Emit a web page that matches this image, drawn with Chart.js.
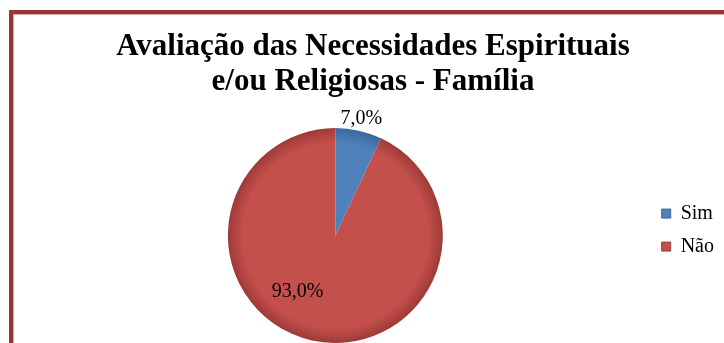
<!DOCTYPE html>
<html>
<head>
<meta charset="utf-8">
<script src="https://cdn.jsdelivr.net/npm/chart.js@4.4.1/dist/chart.umd.min.js"></script>
<style>
  html, body { margin: 0; padding: 0; background: #ffffff; }
  #wrap { width: 724px; height: 343px; position: relative; }
</style>
</head>
<body>
<div id="wrap"><canvas id="chart" width="724" height="343"></canvas></div>
<script>
// --- data ---
const categories = ['Sim', 'Não'];
const values = [7.0, 93.0];
const valueLabels = ['7,0%', '93,0%'];
const titleLines = ['Avaliação das Necessidades Espirituais', 'e/ou Religiosas - Família'];

// slice colours: [flat, rim]
const sliceColors = [['#4f81bd', '#3a679e'], ['#c4504c', '#9e3a37']];
// where the value labels sit (fraction of radius, angle shift in rad)
const labelRadius = [1.11, 0.63];
const labelShift = [0, 0.37];

const SERIF = "'Liberation Serif', 'Times New Roman', serif";

// dark red frame (top + left only, like the source)
const framePlugin = {
  id: 'frame',
  beforeDraw(chart) {
    const ctx = chart.ctx;
    ctx.save();
    ctx.fillStyle = '#953735';
    ctx.fillRect(9, 10, chart.width - 9, 4);
    ctx.fillRect(9, 10, 4, chart.height - 10);
    ctx.fillStyle = '#d6a9a8';
    ctx.fillRect(13, 14, chart.width - 13, 1);
    ctx.fillRect(13, 14, 1, chart.height - 14);
    ctx.restore();
  }
};

// percent labels
const valueLabelPlugin = {
  id: 'valueLabels',
  afterDatasetsDraw(chart) {
    const ctx = chart.ctx;
    const meta = chart.getDatasetMeta(0);
    ctx.save();
    ctx.font = '20px ' + SERIF;
    ctx.fillStyle = '#000000';
    ctx.textAlign = 'center';
    ctx.textBaseline = 'middle';
    meta.data.forEach((arc, i) => {
      const p = arc.getProps(['x', 'y', 'startAngle', 'endAngle', 'outerRadius'], true);
      const a = (p.startAngle + p.endAngle) / 2 + labelShift[i];
      const r = p.outerRadius * labelRadius[i];
      ctx.fillText(valueLabels[i], p.x + Math.cos(a) * r, p.y + Math.sin(a) * r);
    });
    ctx.restore();
  }
};

function sliceFill(context) {
  const i = context.dataIndex;
  const chart = context.chart;
  const area = chart.chartArea;
  if (!area) return sliceColors[i][0];
  const cx = (area.left + area.right) / 2;
  const cy = (area.top + area.bottom) / 2;
  const r = Math.min(area.width, area.height) / 2;
  const g = chart.ctx.createRadialGradient(cx, cy, 0, cx, cy, r);
  g.addColorStop(0, sliceColors[i][0]);
  g.addColorStop(0.86, sliceColors[i][0]);
  g.addColorStop(1, sliceColors[i][1]);
  return g;
}

new Chart(document.getElementById('chart'), {
  type: 'pie',
  data: {
    labels: categories,
    datasets: [{
      data: values,
      backgroundColor: sliceFill,
      borderColor: '#ffffff',
      borderWidth: 0,
    }]
  },
  options: {
    responsive: false,
    animation: false,
    layout: { padding: { left: 22, right: 0, top: 0, bottom: 0 } },
    plugins: {
      title: {
        display: true,
        text: titleLines,
        color: '#000000',
        font: { family: SERIF, size: 31, weight: 'bold', lineHeight: 1.13 },
        padding: { top: 29, bottom: 29 },
      },
      legend: {
        display: true,
        position: 'right',
        // empty title only used to push the entries down
        title: { display: true, text: ' ', font: { size: 1 }, padding: { top: 116, bottom: 0 } },
        labels: {
          color: '#000000',
          font: { family: SERIF, size: 20 },
          boxWidth: 9,
          boxHeight: 9,
          padding: 13,
          generateLabels: (chart) => categories.map((c, i) => ({
            text: c,
            fillStyle: sliceColors[i][0],
            strokeStyle: sliceColors[i][1],
            fontColor: '#000000',
            lineWidth: 1,
            index: i,
          })),
        }
      },
      tooltip: { enabled: false },
    }
  },
  plugins: [framePlugin, valueLabelPlugin]
});
</script>
</body>
</html>
